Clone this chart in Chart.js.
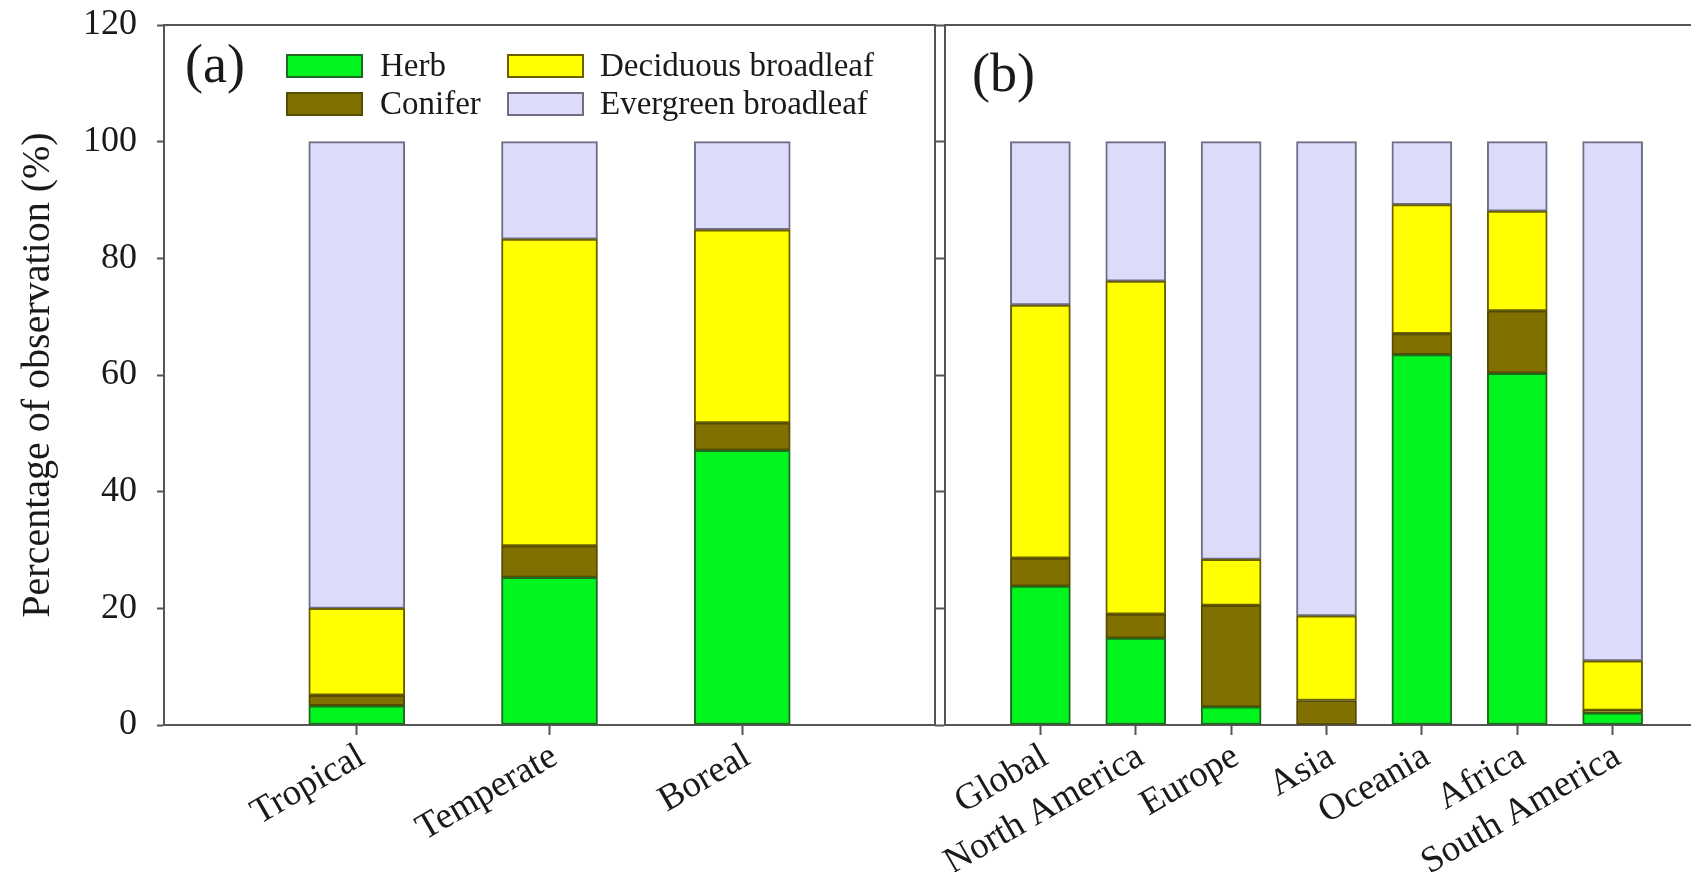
<!DOCTYPE html>
<html><head><meta charset="utf-8">
<script src="https://cdn.jsdelivr.net/npm/chart.js@4.4.1/dist/chart.umd.min.js"></script>
<style>
html,body{margin:0;padding:0;overflow:hidden;background:#fff;width:1691px;height:872px;position:relative;}
#w1{position:absolute;left:0;top:0;width:940px;height:872px;}
#w2{position:absolute;left:900px;top:0;width:808px;height:872px;}
</style></head><body>
<div id="w1"><canvas id="c1"></canvas></div>
<div id="w2"><canvas id="c2"></canvas></div>
<script>
// ---- data ----
const zoneLabels = ['Tropical', 'Temperate', 'Boreal'];
const regionLabels = ['Global', 'North America', 'Europe', 'Asia', 'Oceania', 'Africa', 'South America'];
const yTicks = [0, 20, 40, 60, 80, 100, 120];
const seriesNames = ['Herb', 'Conifer', 'Deciduous broadleaf', 'Evergreen broadleaf'];
const zoneHerb = [3.3, 25.3, 47.1];
const zoneConifer = [1.8, 5.4, 4.7];
const zoneDeciduous = [14.9, 52.6, 33.1];
const zoneEvergreen = [80.0, 16.7, 15.1];
const regionHerb = [23.8, 14.9, 3.1, 0, 63.5, 60.3, 2.1];
const regionConifer = [4.8, 4.1, 17.4, 4.2, 3.6, 10.7, 0.4];
const regionDeciduous = [43.4, 57.1, 7.9, 14.5, 22.1, 17.1, 8.5];
const regionEvergreen = [28.0, 23.9, 71.6, 81.3, 10.8, 11.9, 89.0];

// ---- styles ----
const fills = ['#00f51e', '#807000', '#ffff00', '#dcdcfa'];
const borders = ['#1f6a1f', '#564c00', '#6b6000', '#6e6e84'];
const axisColor = '#555555';
const textColor = '#1a1a1a';
const serif = 'Liberation Serif';

const pad = arr => [null, ...arr, null];
function makeDatasets(series) {
  return series.map((vals, i) => ({
    label: seriesNames[i],
    data: pad(vals),
    backgroundColor: fills[i],
    borderColor: borders[i],
    borderWidth: 2,
    borderSkipped: false,
    stack: 's'
  }));
}

const framePlugin = {
  id: 'frame',
  afterDraw(chart, args, opts) {
    const {ctx, chartArea: a} = chart;
    ctx.save();
    ctx.strokeStyle = axisColor;
    ctx.lineWidth = 2;
    ctx.beginPath();
    ctx.moveTo(a.left - 1, a.top);
    ctx.lineTo(a.right + 1, a.top);
    if (opts.right) {
      ctx.moveTo(a.right, a.top);
      ctx.lineTo(a.right, a.bottom);
    }
    ctx.stroke();
    ctx.fillStyle = textColor;
    ctx.font = '54px "' + serif + '"';
    ctx.textBaseline = 'middle';
    ctx.textAlign = 'left';
    ctx.fillText(opts.letter, opts.lx, opts.ly);
    if (opts.legend) {
      const ds = chart.data.datasets;
      const sx = [287, 508], tx = [380, 600], ry = [66, 104];
      ctx.font = '33px "' + serif + '"';
      ds.forEach((d, i) => {
        const col = Math.floor(i / 2), row = i % 2;
        ctx.fillStyle = d.backgroundColor;
        ctx.fillRect(sx[col], ry[row] - 11, 75, 22);
        ctx.strokeStyle = d.borderColor;
        ctx.lineWidth = 2;
        ctx.strokeRect(sx[col], ry[row] - 11, 75, 22);
        ctx.fillStyle = textColor;
        ctx.fillText(d.label, tx[col], ry[row] + 1);
      });
    }
    ctx.restore();
  }
};

function xScale(n, height) {
  return {
    type: 'category', offset: false, stacked: true,
    grid: {
      offset: false, drawOnChartArea: false, tickLength: 10, tickWidth: 2,
      tickColor: c => (c.index === 0 || c.index === n - 1) ? 'rgba(0,0,0,0)' : axisColor
    },
    border: {color: axisColor, width: 2},
    ticks: {autoSkip: false, maxRotation: 30, minRotation: 30, padding: 0, labelOffset: 5,
      font: {family: serif, size: 37}, color: textColor},
    afterFit: s => { s.height = height; s.paddingLeft = 0; s.paddingRight = 0; }
  };
}
function yScale(width, showLabels) {
  return {
    stacked: true, min: 0, max: 120,
    afterBuildTicks: s => { s.ticks = yTicks.map(v => ({value: v})); },
    afterFit: s => { s.width = width; s.paddingTop = 0; s.paddingBottom = 0; },
    grid: {drawOnChartArea: false, tickLength: showLabels ? 7 : 10, tickWidth: 2, tickColor: axisColor},
    border: {color: axisColor, width: 2},
    ticks: {display: showLabels, padding: 20, font: {family: serif, size: 36}, color: textColor},
    title: {display: showLabels, text: 'Percentage of observation (%)',
      font: {family: serif, size: 40}, color: textColor, padding: {top: 14, bottom: 0}}
  };
}

Chart.defaults.animation = false;
Chart.defaults.responsive = true;
Chart.defaults.maintainAspectRatio = false;

new Chart(document.getElementById('c1'), {
  type: 'bar',
  data: {labels: pad(zoneLabels).map(v => v || ''), datasets: makeDatasets([zoneHerb, zoneConifer, zoneDeciduous, zoneEvergreen])},
  options: {
    layout: {padding: {top: 25, right: 5, left: 0, bottom: 0}},
    datasets: {bar: {barThickness: 96}},
    plugins: {legend: {display: false}, tooltip: {enabled: false},
      frame: {right: true, letter: '(a)', lx: 185, ly: 68, legend: true}},
    scales: {x: xScale(zoneLabels.length + 2, 147), y: yScale(164, true)}
  },
  plugins: [framePlugin]
});

new Chart(document.getElementById('c2'), {
  type: 'bar',
  data: {labels: pad(regionLabels).map(v => v || ''), datasets: makeDatasets([regionHerb, regionConifer, regionDeciduous, regionEvergreen])},
  options: {
    layout: {padding: {top: 25, right: 0, left: 0, bottom: 0}},
    datasets: {bar: {barThickness: 60}},
    plugins: {legend: {display: false}, tooltip: {enabled: false},
      frame: {right: false, letter: '(b)', lx: 72, ly: 77, legend: false}},
    scales: {x: xScale(regionLabels.length + 2, 147), y: yScale(45, false)}
  },
  plugins: [framePlugin]
});
</script>
</body></html>
